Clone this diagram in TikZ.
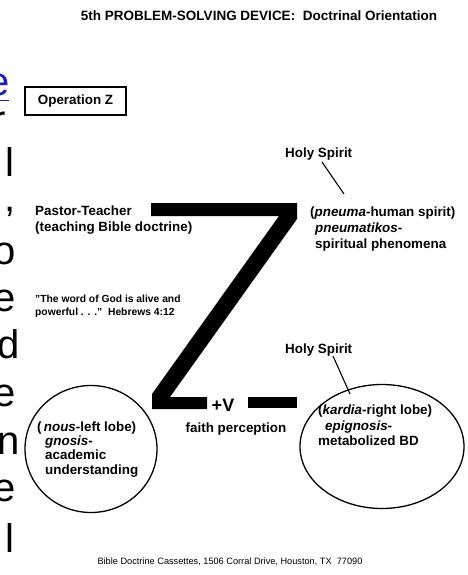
\documentclass[tikz,border=0pt]{standalone}
\usepackage{fontspec}
\setmainfont{Liberation Sans}
\definecolor{linkblue}{RGB}{30,30,185}
\begin{document}
\begin{tikzpicture}[x=1pt,y=-1pt,
  lbl/.style={font=\bfseries\fontsize{13.4}{14}\selectfont, inner sep=0pt, anchor=base west},
  quote/.style={font=\bfseries\fontsize{10.3}{12}\selectfont, inner sep=0pt, anchor=base west},
  frag/.style={font=\fontsize{40}{40}\selectfont, inner sep=0pt, anchor=base east},
  lobe/.style={draw, line width=1.3pt},
  pointer/.style={draw, line width=1.1pt},
]
\useasboundingbox (0,0) rectangle (468,575);
\fill[white] (0,0) rectangle (468,575);

% clipped fragments of neighbouring text at the left edge
\begin{scope}
\clip (0,0) rectangle (468,575);
\node[frag, text=linkblue] (f1) at (10,96) {e};
\draw[linkblue, line width=1.6pt] (0,100.5) -- (9,100.5);
\node[frag] (f2) at (6,133) {r};
\node[frag] (f3) at (14.5,176) {l};
\node[frag] (f4) at (15.5,211) {,};
\node[frag] (f5) at (15.5,264) {o};
\node[frag] (f6) at (16,311) {e};
\node[frag] (f7) at (19.5,358) {d};
\node[frag] (f8) at (16,406) {e};
\node[frag] (f9) at (19.5,454) {n};
\node[frag] (f10) at (16,501) {e};
\node[frag] (f11) at (14.5,552) {l};
\end{scope}

% title
\node[font=\bfseries\fontsize{13.5}{14}\selectfont, inner sep=0pt, anchor=base] (title) at (259,21) {5th PROBLEM-SOLVING DEVICE:\ \ Doctrinal Orientation};

% Operation Z box
\node[draw, line width=1.2pt, minimum width=101pt, minimum height=28pt, inner sep=0pt,
      font=\bfseries\fontsize{13.4}{14}\selectfont] (opz) at (75.5,101) {Operation Z};

% the Z
\fill (151,203) -- (297,203) -- (297,219) -- (170,397) -- (207,397) -- (207,409)
      -- (152,409) -- (152,394) -- (279,216) -- (151,216) -- cycle;
\fill (248,397) rectangle (297,408);
\node[font=\bfseries\fontsize{18}{18}\selectfont, inner sep=0pt, anchor=base] (plusv) at (223,411) {+V};
\node[lbl, anchor=base] (faith) at (236,432) {faith perception};

% left texts
\node[lbl] (pastor1) at (35,215) {Pastor-Teacher};
\node[lbl] (pastor2) at (35,231) {(teaching Bible doctrine)};
\node[quote] (quote1) at (35,302) {"The word of God is alive and};
\node[quote] (quote2) at (35,315) {powerful . . ."\ \ Hebrews 4:12};

% upper right texts
\node[lbl] (hs1) at (285,157) {Holy Spirit};
\coordinate (hs1end) at (344,194);
\draw[pointer] (322,162) -- (hs1end);
\node[lbl] (pn1) at (310,216) {(\textit{pneuma}-human spirit)};
\node[lbl] (pn2) at (315,232) {\textit{pneumatikos}-};
\node[lbl] (pn3) at (315,248) {spiritual phenomena};

% lower right
\node[lbl] (hs2) at (285,353) {Holy Spirit};
\coordinate (hs2end) at (350,394);
\draw[pointer] (333,356) -- (hs2end);

% lobes
\draw[lobe] (91,449) ellipse [x radius=66, y radius=63.5];
\draw[lobe] (382,446.5) ellipse [x radius=82, y radius=62];

\node[lbl] (nous1) at (37,431) {(\,\textit{nous}-left lobe)};
\node[lbl] (nous2) at (45,445) {\textit{gnosis}-};
\node[lbl] (nous3) at (45,459) {academic};
\node[lbl] (nous4) at (45,474) {understanding};

\node[lbl] (kar1) at (318,414) {(\textit{kardia}-right lobe)};
\node[lbl] (kar2) at (325,430) {\textit{epignosis}-};
\node[lbl] (kar3) at (318,445) {metabolized BD};

% footer
\node[font=\fontsize{9.2}{10}\selectfont, inner sep=0pt, anchor=base] (footer) at (230,564)
  {Bible Doctrine Cassettes, 1506 Corral Drive, Houston, TX\ \ 77090};
\end{tikzpicture}
\end{document}
